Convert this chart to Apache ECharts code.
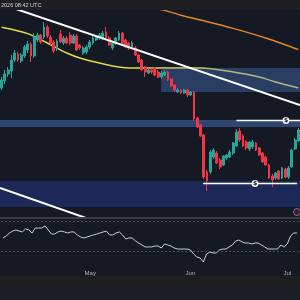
<!DOCTYPE html>
<html><head><meta charset="utf-8">
<script src="https://cdn.jsdelivr.net/npm/echarts@6/dist/echarts.min.js"></script>
<style>html,body{margin:0;padding:0;background:#151924;}#c{width:300px;height:300px;}</style>
</head><body><div id="c"></div>
<script>
// Daily candles, price in thousands of USD
const dates = ['04-04','04-05','04-06','04-07','04-08','04-09','04-10','04-11','04-12','04-13','04-14','04-15','04-16','04-17','04-18','04-19','04-20','04-21','04-22','04-23','04-24','04-25','04-26','04-27','04-28','04-29','04-30',
'05-01','05-02','05-03','05-04','05-05','05-06','05-07','05-08','05-09','05-10','05-11','05-12','05-13','05-14','05-15','05-16','05-17','05-18','05-19','05-20','05-21','05-22','05-23','05-24','05-25','05-26','05-27','05-28','05-29','05-30','05-31',
'06-01','06-02','06-03','06-04','06-05','06-06','06-07','06-08','06-09','06-10','06-11','06-12','06-13','06-14','06-15','06-16','06-17','06-18','06-19','06-20','06-21','06-22','06-23','06-24','06-25','06-26','06-27','06-28','06-29','06-30',
'07-01','07-02','07-03','07-04'];
const monthStarts = ['05-01','06-01','07-01'];
const monthTicks = ['May','Jun','Jul'];

const open = [98,99.75,101.5,102.25,105,106.5,104.75,106,107.5,109,
106,110,111.25,110.75,113.25,110.75,109.5,107.75,111.5,109.25,
110.5,111.25,109.25,111,108.75,106.75,107,108.25,109.25,110,
110.5,110.5,112,110.5,108,109.25,110,111.75,110,109.25,
108.25,108,106.25,105,103.25,101.75,102.5,103,102,100.75,
101.25,102,100.25,98.75,97,97.5,96.75,97.5,96.25,97,
90.5,88.75,86.25,77,77,80.75,81.75,80,78.75,80.5,
80.75,81.75,83.5,87.25,86,84.5,82.75,83.25,84.25,83,
81.75,80.75,78.75,76,75.5,77.25,75.5,77.75,75.75,78.25,
82.75,84.75];
const close = [100,101.5,102.5,105,106.75,105,106.25,108.25,109,106,
110.75,111.25,109.5,113.25,111,109.25,107.25,109.75,109.5,110.5,
109.25,109.25,111,107.5,108,108,108.25,109.5,110.5,110.75,
111.25,111.75,110.5,108.75,109.25,110.5,111.75,109.25,108.25,108,
109.25,106.25,104.5,102.5,102,102.5,102,101.25,100.75,101.75,
102,100,98.5,97.5,97.5,96.75,97.5,96.25,97,90.25,
88.25,86,75.75,74.75,82,82.5,79.25,78.25,81,81.25,
82,84.25,87,85,83.5,83,84.5,84.5,82.5,81.25,
79.5,78.75,75.5,75,76.75,75.25,78,75.75,78,82.5,
85,87.5];
const low = [97.5,99,100.75,100.5,104.5,104.5,104.25,105.5,106.75,104.5,
105.5,109.5,109,110.25,110.5,108.75,106.75,107.25,109.25,108.75,
109,108.75,109,107.25,107.5,106.25,106.5,107.75,108.75,109.75,
110,110,110.25,108.5,107.5,108.75,109.75,109,108,107.5,
108,106,104.25,102.25,100.75,101.5,101.5,101,100.5,100.25,
101,99.75,98.25,97,96.75,96.5,96.5,95.75,96,89.75,
88,85.75,75.25,72.25,76.5,80.25,79,77.75,78.5,80,
80.5,81.25,83.25,84.5,83.25,82.5,82.25,82.75,82.25,81,
79.25,78.5,75.25,73.25,75,75,75.25,75.5,75.25,78,
82.5,84.5];
const high = [100.75,102.5,103.25,106.25,107.5,107,106.75,108.75,109.75,109.5,
111.75,111.75,111.5,114.5,113.75,111.25,110,110.25,112.5,111,
111,112,111.5,111.5,109,108.5,108.75,110,111,111.25,
111.75,112.25,113.25,111,109.75,110.75,112.25,112,110.25,109.5,
109.75,108.5,106.5,105.25,103.5,103,103,103.25,102.5,102.25,
102.5,102.25,100.5,99,98,97.75,97.75,97.75,97.25,97.25,
90.75,89,86.5,77.5,82.5,83,82.25,80.5,81.25,81.5,
82.5,84.5,87.75,88,86.5,85,84.75,85,84.5,83.25,
82,81,79,76.5,77,77.5,78.25,78,78.5,82.75,
85.5,88];

// moving averages read at day indices
const maSlowIdx = [0,8,14,20,24,30,35,40,50,61,71,79,84,91];
const maSlow = [113.2,111.6,109.25,106.75,105.5,104.25,103.4,103,103,103,102,100.75,99.5,98];
const maLongIdx = [47,50,55,61,71,81,88,91];
const maLong = [118,117.4,116.2,115,112.9,110.5,108.5,107.6];

// trendlines [dayIndex, price]
const channelTop = [[3,118.13],[91.5,93.75]];
const channelBottom = [[-0.5,73],[27,65.18]];

// zones [fromIndex, toIndex, upper price, lower price]
const zoneSupplyUpper = [48.9,91.5,103,97];
const zoneBand = [-0.5,91.5,90,88.25];
const zoneDemand = [-0.5,91.5,74.75,68.25];

// liquidity levels [fromIndex, toIndex, price, labelIndex]
const liqHigh = [72,91.5,89.875,87.2];
const liqLow = [61.8,90.6,74.125,77.7];

// RSI
const rsi = [58.7,60,62,63.3,64,63.3,62.7,64.7,64,62,
65.3,65.3,65.3,66.7,64,61.3,61.3,62.7,63.3,62.7,
62,62.7,62.7,60.7,59.3,58.7,59.3,60,60.7,61.3,
62,62.7,63.3,60.7,60.7,62,62.7,60.7,58,58.7,
58.7,56.7,55.3,54,52.7,52.7,52.7,53.3,53.3,52,
54.7,54,53.3,52,51.3,51.3,51.3,51.3,50.7,48,
46,45.3,42.7,48,49.3,48.7,48.7,50.7,51.3,51.3,
52.7,54,56.7,57.3,56,55.3,55.3,54.7,55.3,55.3,
54,52.7,51.3,51.3,51.3,51.3,54,52.7,54.7,60,
62,62];
const rsiLevels = [70,50];

const candles = open.map((o,i)=>[o, close[i], low[i], high[i]]);
const zoneArea = (z, color) => [{coord:[z[0], z[2]], itemStyle:{color}}, {coord:[z[1], z[3]]}];
const liqSeries = (l) => ({
  type:'line', xAxisIndex:1, yAxisIndex:0, z:4, symbol:'none',
  data:[[l[0], l[2]], [l[1], l[2]]],
  lineStyle:{color:'#ffffff', width:1.3},
  markPoint:{z:6, silent:true, symbol:'circle', symbolSize:7,
    itemStyle:{color:'#f0f0f0'},
    label:{show:true, formatter:'$', color:'#131722', fontSize:6, fontWeight:'bold', fontFamily:'DejaVu Sans'},
    data:[{coord:[l[3], l[2]]}]}
});

const chart = echarts.init(document.getElementById('c'));
chart.setOption({
  animation:false,
  backgroundColor:'#151924',
  grid:[{left:0,right:0,top:10,height:207},{left:0,right:0,top:219,height:48}],
  xAxis:[
    {type:'category', gridIndex:0, data:dates, show:false},
    {type:'value', gridIndex:0, min:-0.5, max:91.5, show:false},
    {type:'category', gridIndex:1, data:dates, axisLine:{show:false}, axisTick:{show:false}, splitLine:{show:false},
     axisLabel:{show:true, interval:0, margin:3, fontSize:6, color:'#b2b5be', fontFamily:'Liberation Sans',
       formatter:(v)=>{const k = monthStarts.indexOf(v); return k>=0 ? monthTicks[k] : '';}}}
  ],
  yAxis:[
    {type:'value', gridIndex:0, min:65.75, max:117.5, show:false},
    {type:'value', gridIndex:1, min:39.33, max:71.33, show:false}
  ],
  series:[
    {type:'line', xAxisIndex:1, yAxisIndex:0, z:1, symbol:'none', smooth:0.3,
     data:maSlowIdx.map((x,k)=>[x, maSlow[k]]), lineStyle:{color:'#e6d84a', width:1.5}},
    {type:'line', xAxisIndex:1, yAxisIndex:0, z:1, symbol:'none', smooth:0.3,
     data:maLongIdx.map((x,k)=>[x, maLong[k]]), lineStyle:{color:'#e0862b', width:1.5}},
    {type:'line', xAxisIndex:1, yAxisIndex:0, data:[],
     markArea:{silent:true, z:2, data:[
       zoneArea(zoneSupplyUpper, 'rgba(78,125,209,0.37)'),
       zoneArea(zoneBand, 'rgba(78,125,209,0.45)'),
       zoneArea(zoneDemand, 'rgba(45,80,220,0.28)')
     ]}},
    {type:'candlestick', xAxisIndex:0, yAxisIndex:0, z:3, barWidth:2.3, data:candles,
     itemStyle:{color:'#26a69a', color0:'#f23645', borderColor:'#26a69a', borderColor0:'#f23645', borderWidth:1}},
    {type:'line', xAxisIndex:1, yAxisIndex:0, z:4, symbol:'none', data:channelTop, lineStyle:{color:'#ffffff', width:2}},
    {type:'line', xAxisIndex:1, yAxisIndex:0, z:4, symbol:'none', data:channelBottom, lineStyle:{color:'#ffffff', width:2}},
    liqSeries(liqHigh),
    liqSeries(liqLow),
    {type:'line', xAxisIndex:2, yAxisIndex:1, symbol:'none', data:rsi, lineStyle:{color:'#c5cddb', width:1},
     markLine:{silent:true, symbol:['none','none'], label:{show:false},
       lineStyle:{color:'#5d6270', type:[1.5,2.5], width:1},
       data:rsiLevels.map(v=>({yAxis:v}))}}
  ],
  graphic:[
    {type:'rect', shape:{x:0,y:0,width:300,height:10}, style:{fill:'#1e1f23'}, z:100},
    {type:'text', x:1, y:5, z:101, style:{text:'2026 08:42 UTC', fill:'#cfd2d8', fontSize:5.5, fontFamily:'Liberation Sans', verticalAlign:'middle'}},
    {type:'rect', shape:{x:0,y:217,width:300,height:2}, style:{fill:'#3a3e48'}, z:100},
    {type:'rect', shape:{x:0,y:276,width:300,height:24}, style:{fill:'#1d1e21'}, z:100},
    {type:'circle', shape:{cx:297,cy:212,r:3.5}, style:{fill:'#2d2236', stroke:'#a25a9a', lineWidth:1}, z:100}
  ]
});
</script></body></html>
